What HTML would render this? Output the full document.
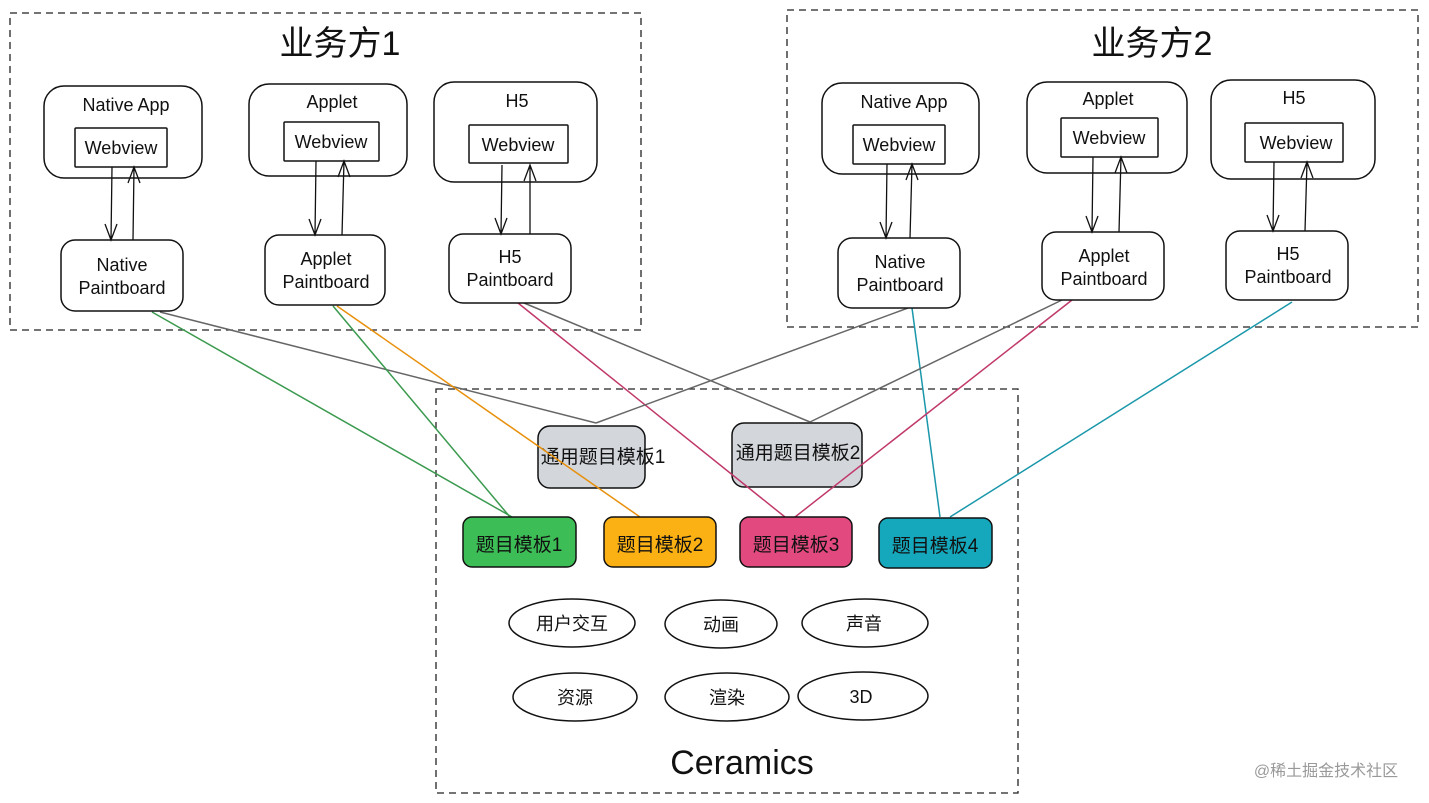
<!DOCTYPE html>
<html><head><meta charset="utf-8"><style>
body{margin:0;background:#fff;}
svg{display:block;font-family:"Liberation Sans","Noto Sans CJK SC",sans-serif;}
</style></head><body>
<svg width="1429" height="803" viewBox="0 0 1429 803" xmlns="http://www.w3.org/2000/svg">
<g fill="none" stroke="#222" stroke-width="1.3" stroke-dasharray="7,5">
<rect x="10" y="13" width="631" height="317"/>
<rect x="787" y="10" width="631" height="317"/>
<rect x="436" y="389" width="582" height="404"/>
</g>
<g font-size="34" text-anchor="middle" fill="#111">
<text x="340" y="55">业务方1</text>
<text x="1152" y="55">业务方2</text>
<text x="742" y="774">Ceramics</text>
</g>
<g stroke="#111" stroke-width="1.5">
<rect x="538" y="426" width="107" height="62" rx="12" fill="#d3d6db"/>
<rect x="732" y="423" width="130" height="64" rx="12" fill="#d3d6db"/>
</g>
<g font-size="19" fill="#111" text-anchor="middle">
<text x="603" y="463">通用题目模板1</text>
<text x="798" y="459">通用题目模板2</text>
</g>
<g fill="none" stroke-width="1.5">
<line x1="152" y1="312" x2="512" y2="517" stroke="#3b9a4f"/>
<line x1="160" y1="312" x2="596" y2="423" stroke="#666"/>
<line x1="333" y1="306" x2="510" y2="517" stroke="#3b9a4f"/>
<line x1="337" y1="306" x2="640" y2="517" stroke="#e8900c"/>
<line x1="518" y1="303" x2="785" y2="517" stroke="#c0396a"/>
<line x1="524" y1="303" x2="810" y2="422" stroke="#666"/>
<line x1="908" y1="308" x2="596" y2="423" stroke="#666"/>
<line x1="912" y1="308" x2="940" y2="517" stroke="#1a97aa"/>
<line x1="1062" y1="300" x2="810" y2="422" stroke="#666"/>
<line x1="1072" y1="300" x2="795" y2="517" stroke="#c0396a"/>
<line x1="1292" y1="302" x2="950" y2="517" stroke="#1a97aa"/>
</g>
<g fill="#fff" stroke="#111" stroke-width="1.5">
<rect x="44" y="86" width="158" height="92" rx="20"/>
<rect x="249" y="84" width="158" height="92" rx="20"/>
<rect x="434" y="82" width="163" height="100" rx="20"/>
<rect x="822" y="83" width="157" height="91" rx="20"/>
<rect x="1027" y="82" width="160" height="91" rx="20"/>
<rect x="1211" y="80" width="164" height="99" rx="20"/>
<rect x="75" y="128" width="92" height="39" rx="1"/>
<rect x="284" y="122" width="95" height="39" rx="1"/>
<rect x="469" y="125" width="99" height="38" rx="1"/>
<rect x="853" y="125" width="92" height="39" rx="1"/>
<rect x="1061" y="118" width="97" height="39" rx="1"/>
<rect x="1245" y="123" width="98" height="39" rx="1"/>
<rect x="61" y="240" width="122" height="71" rx="14"/>
<rect x="265" y="235" width="120" height="70" rx="14"/>
<rect x="449" y="234" width="122" height="69" rx="14"/>
<rect x="838" y="238" width="122" height="70" rx="14"/>
<rect x="1042" y="232" width="122" height="68" rx="14"/>
<rect x="1226" y="231" width="122" height="69" rx="14"/>
</g>
<g stroke="#111" stroke-width="1.3" fill="none">
<path d="M112 167 L111 240 M105 224 L111 240 L117 224"/>
<path d="M133 240 L134 167 M128 183 L134 167 L140 183"/>
<path d="M316 161 L315 235 M309 219 L315 235 L321 219"/>
<path d="M342 235 L344 161 M338 177 L344 161 L350 177"/>
<path d="M502 165 L501 234 M495 218 L501 234 L507 218"/>
<path d="M530 234 L530 165 M524 181 L530 165 L536 181"/>
<path d="M887 164 L886 238 M880 222 L886 238 L892 222"/>
<path d="M910 238 L912 164 M906 180 L912 164 L918 180"/>
<path d="M1093 157 L1092 232 M1086 216 L1092 232 L1098 216"/>
<path d="M1119 232 L1121 157 M1115 173 L1121 157 L1127 173"/>
<path d="M1274 162 L1273 231 M1267 215 L1273 231 L1279 215"/>
<path d="M1305 231 L1307 162 M1301 178 L1307 162 L1313 178"/>
</g>
<g font-size="18" fill="#111" text-anchor="middle">
<text x="126" y="111">Native App</text>
<text x="332" y="108">Applet</text>
<text x="517" y="107">H5</text>
<text x="904" y="108">Native App</text>
<text x="1108" y="105">Applet</text>
<text x="1294" y="104">H5</text>
<text x="121" y="154">Webview</text>
<text x="331" y="148">Webview</text>
<text x="518" y="151">Webview</text>
<text x="899" y="151">Webview</text>
<text x="1109" y="144">Webview</text>
<text x="1296" y="149">Webview</text>
<text x="122" y="271">Native</text><text x="122" y="294">Paintboard</text>
<text x="326" y="265">Applet</text><text x="326" y="288">Paintboard</text>
<text x="510" y="263">H5</text><text x="510" y="286">Paintboard</text>
<text x="900" y="268">Native</text><text x="900" y="291">Paintboard</text>
<text x="1104" y="262">Applet</text><text x="1104" y="285">Paintboard</text>
<text x="1288" y="260">H5</text><text x="1288" y="283">Paintboard</text>
</g>
<g stroke="#111" stroke-width="1.5">
<rect x="463" y="517" width="113" height="50" rx="9" fill="#3dbd55"/>
<rect x="604" y="517" width="112" height="50" rx="9" fill="#fbb013"/>
<rect x="740" y="517" width="112" height="50" rx="9" fill="#e2497f"/>
<rect x="879" y="518" width="113" height="50" rx="9" fill="#15a8bd"/>
</g>
<g font-size="19" fill="#111" text-anchor="middle">
<text x="519" y="551">题目模板1</text>
<text x="660" y="551">题目模板2</text>
<text x="796" y="551">题目模板3</text>
<text x="935" y="552">题目模板4</text>
</g>
<g fill="#fff" stroke="#111" stroke-width="1.5">
<ellipse cx="572" cy="623" rx="63" ry="24"/>
<ellipse cx="721" cy="624" rx="56" ry="24"/>
<ellipse cx="865" cy="623" rx="63" ry="24"/>
<ellipse cx="575" cy="697" rx="62" ry="24"/>
<ellipse cx="727" cy="697" rx="62" ry="24"/>
<ellipse cx="863" cy="696" rx="65" ry="24"/>
</g>
<g font-size="18" fill="#111" text-anchor="middle">
<text x="572" y="630">用户交互</text>
<text x="721" y="631">动画</text>
<text x="864" y="630">声音</text>
<text x="575" y="704">资源</text>
<text x="727" y="704">渲染</text>
<text x="861" y="703">3D</text>
</g>
<text x="1326" y="776" font-size="16" fill="#999" text-anchor="middle">@稀土掘金技术社区</text>
</svg>
</body></html>
